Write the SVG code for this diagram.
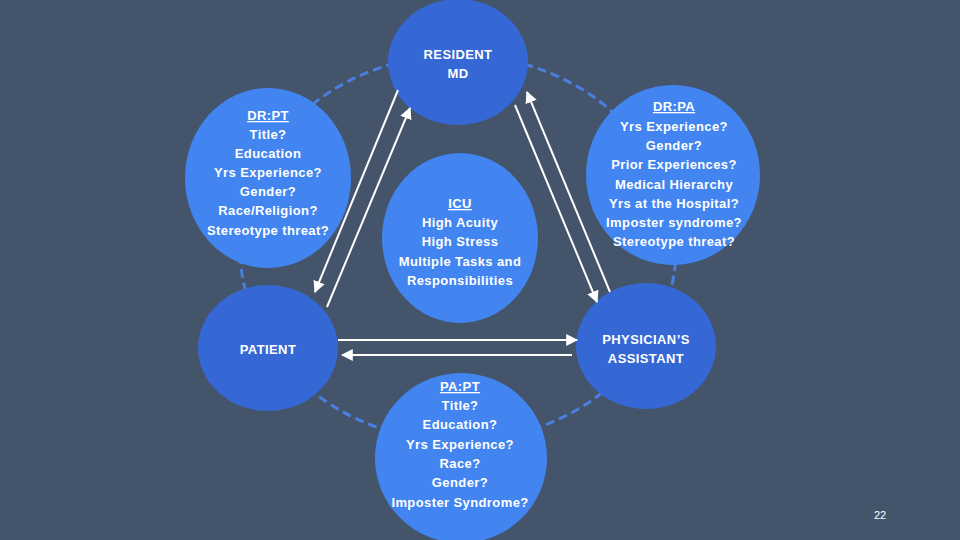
<svg xmlns="http://www.w3.org/2000/svg" width="960" height="540" viewBox="0 0 960 540">
<defs>
<style>
.bg{fill:#44546A}
.ring{fill:none;stroke:#4A7FE0;stroke-width:3;stroke-dasharray:9 5}
.light{fill:#4285F0}
.dark{fill:#3568D4}
.t{font-family:"Liberation Sans",Arial,sans-serif;font-size:13px;font-weight:bold;fill:#FFFFFF;text-anchor:middle;letter-spacing:0.4px}
.u{text-decoration:underline}
.conn{stroke:#FFFFFF;stroke-width:2;fill:none;marker-end:url(#ah)}
.pg{font-family:"Liberation Sans",Arial,sans-serif;font-size:11px;fill:#FFFFFF;text-anchor:middle}
</style>
<marker id="ah" viewBox="0 0 10 10" refX="9" refY="5" markerWidth="6" markerHeight="6" markerUnits="strokeWidth" orient="auto">
<path d="M0,0 L10,5 L0,10 Z" fill="#FFFFFF"/>
</marker>
</defs>
<rect class="bg" x="0" y="0" width="960" height="540"/>
<ellipse class="ring" cx="458" cy="248" rx="218" ry="193"/>
<g id="resident">
<ellipse class="dark" cx="458" cy="62" rx="70" ry="63"/>
<text class="t" x="458" y="59">RESIDENT</text>
<text class="t" x="458" y="78">MD</text>
</g>
<g id="drpt">
<ellipse class="light" cx="268" cy="178" rx="83" ry="90"/>
<text class="t u" x="268" y="120">DR:PT</text>
<text class="t" x="268" y="139">Title?</text>
<text class="t" x="268" y="158">Education</text>
<text class="t" x="268" y="177">Yrs Experience?</text>
<text class="t" x="268" y="196">Gender?</text>
<text class="t" x="268" y="215">Race/Religion?</text>
<text class="t" x="268" y="235">Stereotype threat?</text>
</g>
<g id="drpa">
<ellipse class="light" cx="673" cy="175" rx="87" ry="90"/>
<text class="t u" x="674" y="111">DR:PA</text>
<text class="t" x="674" y="131">Yrs Experience?</text>
<text class="t" x="674" y="150">Gender?</text>
<text class="t" x="674" y="169">Prior Experiences?</text>
<text class="t" x="674" y="189">Medical Hierarchy</text>
<text class="t" x="674" y="208">Yrs at the Hospital?</text>
<text class="t" x="674" y="227">Imposter syndrome?</text>
<text class="t" x="674" y="246">Stereotype threat?</text>
</g>
<g id="icu">
<ellipse class="light" cx="460" cy="238" rx="78" ry="85"/>
<text class="t u" x="460" y="208">ICU</text>
<text class="t" x="460" y="227">High Acuity</text>
<text class="t" x="460" y="246">High Stress</text>
<text class="t" x="460" y="266">Multiple Tasks and</text>
<text class="t" x="460" y="285">Responsibilities</text>
</g>
<g id="patient">
<ellipse class="dark" cx="268" cy="348" rx="70" ry="63"/>
<text class="t" x="268" y="354">PATIENT</text>
</g>
<g id="pa">
<ellipse class="dark" cx="646" cy="346" rx="70" ry="63"/>
<text class="t" x="646" y="344">PHYSICIAN’S</text>
<text class="t" x="646" y="363">ASSISTANT</text>
</g>
<g id="papt">
<ellipse class="light" cx="461" cy="458" rx="86" ry="85"/>
<text class="t u" x="460" y="391">PA:PT</text>
<text class="t" x="460" y="410">Title?</text>
<text class="t" x="460" y="429">Education?</text>
<text class="t" x="460" y="449">Yrs Experience?</text>
<text class="t" x="460" y="468">Race?</text>
<text class="t" x="460" y="487">Gender?</text>
<text class="t" x="460" y="507">Imposter Syndrome?</text>
</g>
<g id="connectors">
<line class="conn" x1="398" y1="90" x2="315" y2="292"/>
<line class="conn" x1="327" y1="307" x2="410" y2="108"/>
<line class="conn" x1="515" y1="105" x2="597" y2="302"/>
<line class="conn" x1="610" y1="292" x2="527" y2="92"/>
<line class="conn" x1="338" y1="340" x2="577" y2="340"/>
<line class="conn" x1="572" y1="355" x2="342" y2="355"/>
</g>
<text class="pg" x="880" y="519">22</text>
</svg>
